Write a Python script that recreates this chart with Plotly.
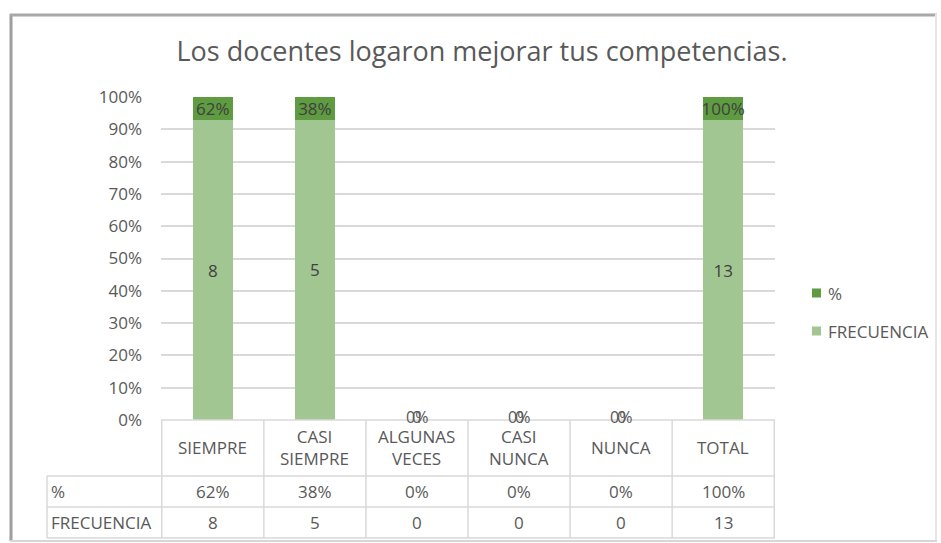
import plotly.graph_objects as go

# ---- data ----
categorias = ["SIEMPRE", "CASI SIEMPRE", "ALGUNAS VECES", "CASI NUNCA", "NUNCA", "TOTAL"]
etiquetas_tabla = ["SIEMPRE", "CASI<br>SIEMPRE", "ALGUNAS<br>VECES", "CASI<br>NUNCA", "NUNCA", "TOTAL"]
frecuencia = [8, 5, 0, 0, 0, 13]
porcentaje = [0.62, 0.38, 0.0, 0.0, 0.0, 1.00]
titulo = "Los docentes logaron mejorar tus competencias."
y_ticks = [0, 10, 20, 30, 40, 50, 60, 70, 80, 90, 100]
y_ticktext = ["0%", "10%", "20%", "30%", "40%", "50%", "60%", "70%", "80%", "90%", "100%"]

# ---- style ----
W, H = 941, 543
L, R, T, B = 161, 775, 97, 420
FONT = "Open Sans"
TXT = "#595959"
LIGHT = "#A2C692"
DARK = "#5F9B40"
GRID = "#D9D9D9"
FS = 17


def px(x):
    return (x - L) / (R - L)


def py(y):
    return (B - y) / (B - T)


fig = go.Figure()
fig.add_trace(go.Bar(
    name="FRECUENCIA", x=categorias, y=frecuencia,
    marker=dict(color=LIGHT, line=dict(width=0)),
    text=[str(v) if v else "" for v in frecuencia],
    textposition="inside", insidetextanchor="middle", constraintext="none",
    textfont=dict(family=FONT, size=FS, color="#404040"),
    showlegend=False,
))
fig.add_trace(go.Bar(
    name="%", x=categorias, y=porcentaje,
    marker=dict(color=DARK, line=dict(width=0)),
    text=[f"{round(v*100)}%" if v else "" for v in porcentaje],
    textposition="inside", insidetextanchor="middle", constraintext="none",
    textfont=dict(family=FONT, size=FS, color="#404040"),
    showlegend=False,
))

annotations = []
shapes = []

# zero labels at base for empty categories (both series labels overlap, as in the original)
for c, f, p in zip(categorias, frecuencia, porcentaje):
    if f == 0:
        for t in [f"{round(p*100)}%", str(f)]:
            annotations.append(dict(x=c, y=0, xref="x", yref="y", text=t, showarrow=False,
                                    yanchor="middle", yshift=3,
                                    font=dict(family=FONT, size=FS - 1, color=TXT)))

# ---- data table ----
n = len(categorias)
row_y = [420, 476, 507, 538]
line = dict(color=GRID, width=1.5)
for k in range(n + 1):
    shapes.append(dict(type="line", xref="x", yref="paper", x0=k - 0.5, x1=k - 0.5,
                       y0=py(row_y[0]), y1=py(row_y[3]), line=line))
shapes.append(dict(type="line", xref="paper", yref="paper", x0=px(47), x1=px(47),
                   y0=py(row_y[1]), y1=py(row_y[3]), line=line))
shapes.append(dict(type="line", xref="paper", yref="paper", x0=0, x1=1,
                   y0=py(row_y[0]), y1=py(row_y[0]), line=line))
for yy in row_y[1:]:
    shapes.append(dict(type="line", xref="paper", yref="paper", x0=px(47), x1=1,
                       y0=py(yy), y1=py(yy), line=line))

for c, lab, f, p in zip(categorias, etiquetas_tabla, frecuencia, porcentaje):
    annotations.append(dict(x=c, y=py(447), xref="x", yref="paper", text=lab, showarrow=False,
                            yanchor="middle", font=dict(family=FONT, size=FS, color=TXT)))
    annotations.append(dict(x=c, y=py(491.5), xref="x", yref="paper", text=f"{round(p*100)}%",
                            showarrow=False, yanchor="middle", font=dict(family=FONT, size=FS, color=TXT)))
    annotations.append(dict(x=c, y=py(522.5), xref="x", yref="paper", text=str(f),
                            showarrow=False, yanchor="middle", font=dict(family=FONT, size=FS, color=TXT)))
for lab, yy in [("%", 491.5), ("FRECUENCIA", 522.5)]:
    annotations.append(dict(x=px(49), y=py(yy), xref="paper", yref="paper", text=lab, showarrow=False,
                            xanchor="left", yanchor="middle", font=dict(family=FONT, size=FS, color=TXT)))

# ---- legend (custom) ----
for name, col, yy in [("%", DARK, 293), ("FRECUENCIA", LIGHT, 331)]:
    shapes.append(dict(type="rect", xref="paper", yref="paper", x0=px(812), x1=px(821),
                       y0=py(yy - 4.5), y1=py(yy + 4.5), fillcolor=col, line=dict(width=0)))
    annotations.append(dict(x=px(826), y=py(yy), xref="paper", yref="paper", text=name, showarrow=False,
                            xanchor="left", yanchor="middle", font=dict(family=FONT, size=FS, color=TXT)))

# ---- outer frame ----
shapes.append(dict(type="line", xref="paper", yref="paper", x0=px(11), x1=px(11), y0=py(14), y1=py(541),
                   line=dict(color="#9E9E9E", width=3)))
shapes.append(dict(type="line", xref="paper", yref="paper", x0=px(10), x1=px(937), y0=py(15), y1=py(15),
                   line=dict(color="#A8A8A8", width=3)))
shapes.append(dict(type="line", xref="paper", yref="paper", x0=px(936), x1=px(936), y0=py(14), y1=py(541),
                   line=dict(color="#E6E6E6", width=2)))
shapes.append(dict(type="line", xref="paper", yref="paper", x0=px(10), x1=px(937), y0=py(541), y1=py(541),
                   line=dict(color="#D6D6D6", width=2)))

fig.update_layout(
    width=W, height=H,
    margin=dict(l=L, r=W - R, t=T, b=H - B, pad=0),
    paper_bgcolor="white", plot_bgcolor="white",
    barmode="stack", barnorm="percent", bargap=0.61,
    title=dict(text=titulo, x=482 / W, xref="container", xanchor="center",
               y=1 - 52 / H, yref="container", yanchor="middle",
               font=dict(family=FONT, size=27, color=TXT)),
    xaxis=dict(showticklabels=False, showgrid=False, zeroline=False, showline=False, ticks=""),
    yaxis=dict(range=[0, 100], tickmode="array", tickvals=y_ticks, ticktext=y_ticktext,
               showgrid=True, gridcolor=GRID,
               gridwidth=1.5, zeroline=False, showline=False, ticks="", ticklabelstandoff=18,
               tickfont=dict(family=FONT, size=FS, color=TXT)),
    annotations=annotations, shapes=shapes,
    font=dict(family=FONT, color=TXT),
)

fig.write_html("out.html", config={"displayModeBar": False},
               post_script="document.body.style.margin='0';")
